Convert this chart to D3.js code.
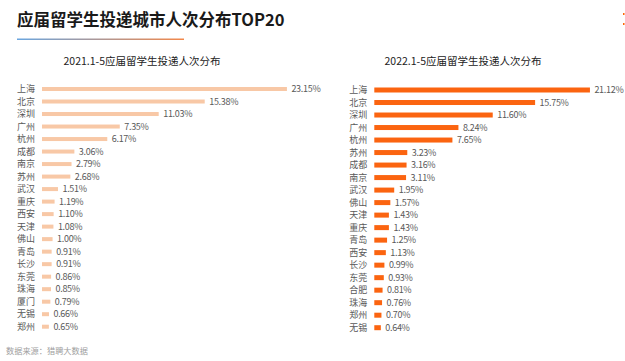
<!DOCTYPE html>
<html>
<head>
<meta charset="utf-8">
<script src="https://cdn.jsdelivr.net/npm/d3@7"></script>
<style>
  body { margin: 0; background: #fff; }
  text { font-family: "Noto Sans CJK SC", "Noto Sans", sans-serif; }
</style>
</head>
<body>
<script>
var cities2021 = ["上海","北京","深圳","广州","杭州","成都","南京","苏州","武汉","重庆","西安","天津","佛山","青岛","长沙","东莞","珠海","厦门","无锡","郑州"];
var values2021 = [23.15,15.38,11.03,7.35,6.17,3.06,2.79,2.68,1.51,1.19,1.10,1.08,1.00,0.91,0.91,0.86,0.85,0.79,0.66,0.65];

var cities2022 = ["上海","北京","深圳","广州","杭州","苏州","成都","南京","武汉","佛山","天津","重庆","青岛","西安","长沙","东莞","合肥","珠海","郑州","无锡"];
var values2022 = [21.12,15.75,11.60,8.24,7.65,3.23,3.16,3.11,1.95,1.57,1.43,1.43,1.25,1.13,0.99,0.93,0.81,0.76,0.70,0.64];

var width = 625,
    height = 361;

var svg = d3.select("body").append("svg")
    .attr("width", width)
    .attr("height", height);

// title + gradient rule
svg.append("text")
    .attr("x", 17)
    .attr("y", 26)
    .attr("font-size", 16.5)
    .attr("font-weight", "bold")
    .attr("fill", "#1a1a1a")
    .text("应届留学生投递城市人次分布TOP20");

var grad = svg.append("defs").append("linearGradient").attr("id", "rule");
grad.append("stop").attr("offset", "0%").attr("stop-color", "#6aa6e0");
grad.append("stop").attr("offset", "100%").attr("stop-color", "#f3884a");
svg.append("rect")
    .attr("x", 17).attr("y", 38.5)
    .attr("width", 167).attr("height", 1.5)
    .attr("fill", "url(#rule)");

// little marks top right
svg.append("rect").attr("x", 623).attr("y", 13).attr("width", 1.5).attr("height", 2).attr("fill", "#f60");
svg.append("rect").attr("x", 623).attr("y", 23).attr("width", 1.5).attr("height", 2).attr("fill", "#f60");

svg.append("text")
    .attr("x", 6)
    .attr("y", 354)
    .attr("font-size", 8.2)
    .attr("fill", "#a0a0a0")
    .text("数据来源：猎聘大数据");

panel({
  title: "2021.1-5应届留学生投递人次分布", titleX: 142,
  cities: cities2021, values: values2021,
  x0: 42, pxPerUnit: 10.58, y0: 89, y1: 326.7,
  color: "#f8c8a6", barH: 4
});

panel({
  title: "2022.1-5应届留学生投递人次分布", titleX: 463,
  cities: cities2022, values: values2022,
  x0: 374.3, pxPerUnit: 10.21, y0: 90, y1: 327.7,
  color: "#fb6410", barH: 5
});

function panel(p) {
  var g = svg.append("g");

  g.append("text")
      .attr("x", p.titleX)
      .attr("y", 65)
      .attr("text-anchor", "middle")
      .attr("font-size", 10.5)
      .attr("fill", "#222")
      .text(p.title);

  var y = d3.scalePoint()
      .domain(p.cities)
      .range([p.y0, p.y1]);

  var maxV = d3.max(p.values);
  var x = d3.scaleLinear()
      .domain([0, maxV])
      .range([p.x0, p.x0 + maxV * p.pxPerUnit]);

  var rows = g.selectAll("g.row")
      .data(p.cities.map(function(c, i) { return { city: c, value: p.values[i] }; }))
    .enter().append("g")
      .attr("class", "row");

  rows.append("rect")
      .attr("x", x(0))
      .attr("y", function(d) { return y(d.city) - p.barH / 2; })
      .attr("width", function(d) { return x(d.value) - x(0); })
      .attr("height", p.barH)
      .attr("fill", p.color);

  rows.append("text")
      .attr("x", x(0) - 7)
      .attr("y", function(d) { return y(d.city); })
      .attr("dy", "0.35em")
      .attr("text-anchor", "end")
      .attr("font-size", 9)
      .attr("fill", "#595959")
      .text(function(d) { return d.city; });

  rows.append("text")
      .attr("x", function(d) { return x(d.value) + 4.5; })
      .attr("y", function(d) { return y(d.city); })
      .attr("dy", "0.35em")
      .attr("font-size", 9)
      .attr("letter-spacing", -0.3)
      .attr("fill", "#595959")
      .text(function(d) { return d.value.toFixed(2) + "%"; });
}
</script>
</body>
</html>
